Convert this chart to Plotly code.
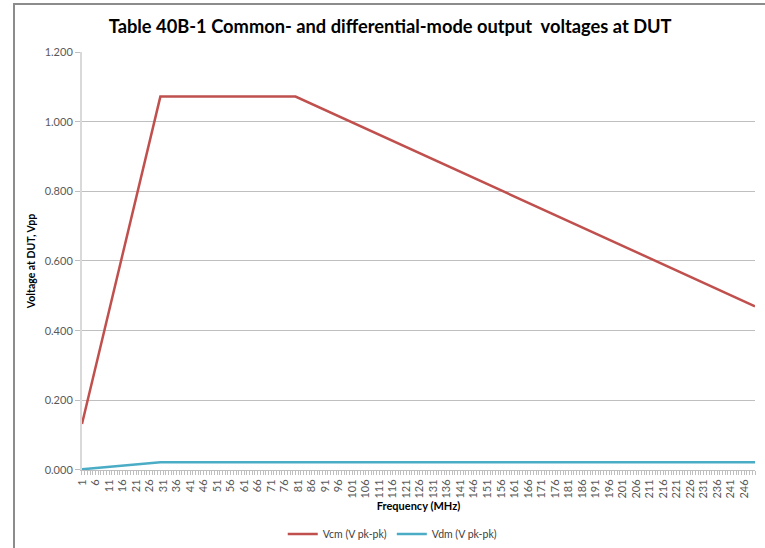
"""Table 40B-1 common- and differential-mode output voltages at DUT."""

import plotly.graph_objects as go

# breakpoints of the piecewise-linear curves (frequency in MHz)
vcm_freq = [1, 30, 80, 250]
vcm_volts = [0.132, 1.072, 1.072, 0.470]

vdm_freq = [1, 30, 250]
vdm_volts = [0.002, 0.022, 0.022]

freq_ticks = list(range(1, 250, 5))
volt_ticks = [0.0, 0.2, 0.4, 0.6, 0.8, 1.0, 1.2]

RED = "#c0504d"
BLUE = "#4bacc6"
FRAME = "#8c8c8c"
FONT = "Lato, 'Open Sans', sans-serif"

fig = go.Figure()
fig.add_trace(
    go.Scatter(
        x=vcm_freq,
        y=vcm_volts,
        mode="lines",
        line=dict(color=RED, width=2.5),
        name="Vcm (V pk-pk)",
    )
)
fig.add_trace(
    go.Scatter(
        x=vdm_freq,
        y=vdm_volts,
        mode="lines",
        line=dict(color=BLUE, width=2.5),
        name="Vdm (V pk-pk)",
    )
)
# empty trace so the full-page frame axes get drawn
fig.add_trace(
    go.Scatter(x=[], y=[], xaxis="x2", yaxis="y2", showlegend=False, hoverinfo="skip")
)

fig.update_layout(
    width=765,
    height=548,
    paper_bgcolor="white",
    plot_bgcolor="rgba(0,0,0,0)",
    margin=dict(l=15, r=0, t=5, b=0, autoexpand=False),
    font=dict(family=FONT, color="#595959", size=11),
    title=dict(
        text="<b>Table 40B-1 Common- and differential-mode output  voltages at DUT</b>",
        font=dict(size=18.3, color="black", family=FONT),
        x=0.51,
        xanchor="center",
        y=0.951,
        yanchor="middle",
    ),
    showlegend=True,
    legend=dict(
        orientation="h",
        x=0.503,
        xanchor="center",
        y=0.0258,
        yanchor="middle",
        font=dict(size=10.5, color="#404040"),
        itemwidth=30,
    ),
    xaxis=dict(
        anchor="y",
        domain=[0.0893, 0.9867],
        range=[1, 250],
        automargin=False,
        tickmode="array",
        tickvals=freq_ticks,
        ticktext=[str(v) for v in freq_ticks],
        tickangle=-90,
        tickfont=dict(size=11, color="#595959"),
        ticks="outside",
        ticklen=4,
        tickcolor="#bfbfbf",
        minor=dict(dtick=1, tick0=1, ticks="outside", ticklen=4, tickcolor="#bfbfbf"),
        showgrid=False,
        showline=True,
        linecolor="#bfbfbf",
        linewidth=1,
        zeroline=False,
        title=dict(
            text="<b>Frequency (MHz)</b>",
            font=dict(size=11, color="black"),
            standoff=3,
        ),
    ),
    yaxis=dict(
        anchor="x",
        domain=[0.1437, 0.9134],
        range=[0, 1.2],
        automargin=False,
        tickvals=volt_ticks,
        tickformat=".3f",
        tickfont=dict(size=11, color="#595959"),
        ticks="outside",
        ticklen=5,
        tickcolor="#bfbfbf",
        showgrid=True,
        gridcolor="#bfbfbf",
        gridwidth=1,
        showline=True,
        linecolor="#d9d9d9",
        linewidth=2,
        zeroline=False,
        title=dict(
            text="<b>Voltage at DUT, Vpp</b>",
            font=dict(size=10.5, color="black"),
            standoff=7,
        ),
    ),
    # chart-area frame: only its top and left edges are inside the crop
    xaxis2=dict(
        domain=[0, 1], anchor="y2", side="top", range=[0, 1],
        showline=True, linecolor=FRAME, linewidth=1.5,
        showticklabels=False, ticks="", showgrid=False, zeroline=False,
        fixedrange=True,
    ),
    yaxis2=dict(
        domain=[0, 1], anchor="x2", side="left", range=[0, 1],
        showline=True, linecolor=FRAME, linewidth=1.5,
        showticklabels=False, ticks="", showgrid=False, zeroline=False,
        fixedrange=True,
    ),
)

# the page's default body margin would push the figure 8px off the window
fig.write_html(
    "out.html",
    config={"displayModeBar": False},
    post_script="document.body.style.margin='0';document.body.style.overflow='hidden';",
)
